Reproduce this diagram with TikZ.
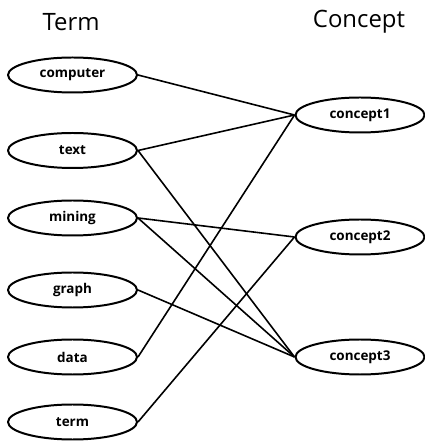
\documentclass[tikz,border=0pt]{standalone}
\usepackage{fontspec}
\setmainfont{Open Sans}
\usetikzlibrary{shapes.geometric}
\tikzset{
  termnode/.style={draw,ellipse,line width=2pt,minimum width=129bp,minimum height=35bp,inner sep=0pt,font=\fontsize{13.5}{15}\selectfont\bfseries},
  linkline/.style={black,line width=1.6pt},
  headlabel/.style={font=\fontsize{24}{28}\selectfont},
}
\begin{document}
\begin{tikzpicture}[line join=bevel,]
\useasboundingbox (0bp,0bp) rectangle (425bp,442bp);
%%
\node (head_term) at (71.0bp,420.0bp) [headlabel] {Term};
  \node (head_concept) at (359.0bp,420.0bp) [headlabel] {Concept};
  \node (term_0) at (72.5bp,367.0bp) [termnode] {computer};
  \node (term_1) at (72.5bp,291.5bp) [termnode] {text};
  \node (term_2) at (72.5bp,224.0bp) [termnode] {mining};
  \node (term_3) at (72.5bp,152.0bp) [termnode] {graph};
  \node (term_4) at (72.5bp,85.0bp) [termnode] {data};
  \node (term_5) at (72.5bp,20.0bp) [termnode] {term};
  \node (concept_0) at (360.0bp,327.0bp) [termnode] {concept1};
  \node (concept_1) at (360.0bp,205.0bp) [termnode] {concept2};
  \node (concept_2) at (360.0bp,85.0bp) [termnode] {concept3};
  \draw [linkline] (term_0.east) -- (concept_0.west);
  \draw [linkline] (term_1.east) -- (concept_0.west);
  \draw [linkline] (term_1.east) -- (concept_2.west);
  \draw [linkline] (term_2.east) -- (concept_1.west);
  \draw [linkline] (term_2.east) -- (concept_2.west);
  \draw [linkline] (term_3.east) -- (concept_2.west);
  \draw [linkline] (term_4.east) -- (concept_0.west);
  \draw [linkline] (term_5.east) -- (concept_1.west);
%
\end{tikzpicture}
\end{document}
